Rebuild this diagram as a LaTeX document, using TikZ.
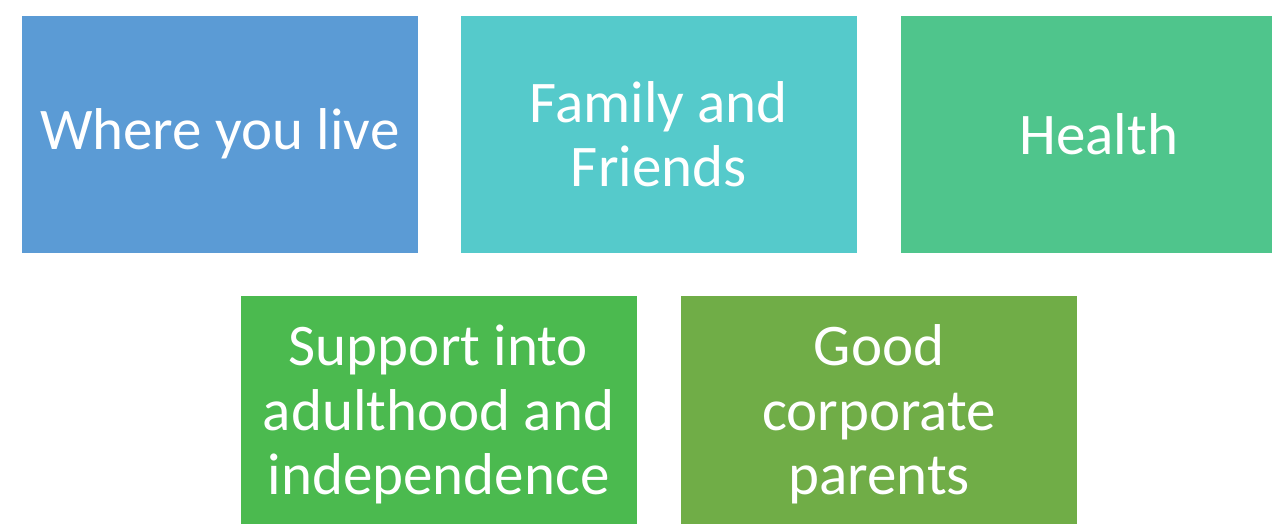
\documentclass[tikz,border=0pt]{standalone}
\usepackage{fontspec}
\setmainfont{Carlito}
\definecolor{cblue}{HTML}{5B9BD5}
\definecolor{cteal}{HTML}{55CACB}
\definecolor{cmint}{HTML}{4FC58C}
\definecolor{cgreen}{HTML}{4BBA4F}
\definecolor{colive}{HTML}{70AD47}
\begin{document}
\begin{tikzpicture}[x=1pt,y=-1pt,
  tile/.style={rectangle, draw=white, line width=0.8pt, text=white,
    minimum width=397pt, minimum height=238pt, inner sep=0pt,
    align=center, font=\fontsize{59}{64.5}\selectfont}]
\useasboundingbox (0,0) rectangle (1272,523);
\clip (0,0) rectangle (1272,523);
\fill[white] (0,0) rectangle (1272,523);
\node[tile, fill=cblue]  (live)    at (219.75,134.25) {Where you live};
\node[tile, fill=cteal]  (family)  at (658.75,134.25) {Family and\\Friends};
\node[tile, fill=cmint]  (health)  at (1098.75,134.25) {Health};
\node[tile, fill=cgreen] (support) at (438.5,414.5) {Support into\\adulthood and\\independence};
\node[tile, fill=colive] (parents) at (879,414.5) {Good\\corporate\\parents};
\end{tikzpicture}
\end{document}
